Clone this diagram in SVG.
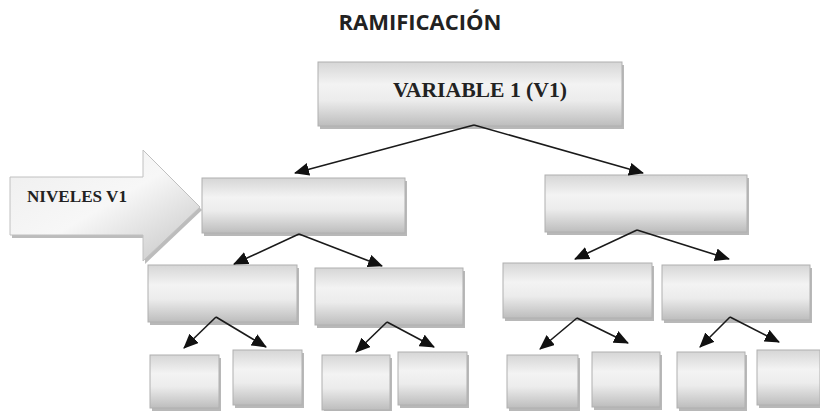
<svg xmlns="http://www.w3.org/2000/svg" width="820" height="411" viewBox="0 0 820 411">
<defs>
<linearGradient id="g" x1="0" y1="0" x2="0" y2="1">
<stop offset="0" stop-color="#d6d6d6"/>
<stop offset="0.35" stop-color="#f3f3f3"/>
<stop offset="0.6" stop-color="#ececec"/>
<stop offset="1" stop-color="#bdbdbd"/>
</linearGradient>
<linearGradient id="ga" x1="0" y1="0" x2="1" y2="1">
<stop offset="0" stop-color="#eeeeee"/>
<stop offset="0.5" stop-color="#f7f7f7"/>
<stop offset="1" stop-color="#c4c4c4"/>
</linearGradient>
<marker id="ah" markerWidth="15" markerHeight="13" refX="14" refY="6.5" orient="auto" markerUnits="userSpaceOnUse">
<path d="M0,0 L15,6.5 L0,13 Z" fill="#111"/>
</marker>
<style>
.b{fill:url(#g);stroke:#b0b0b0;stroke-width:1}
.s{fill:#9a9a9a;opacity:0.7}
.c{stroke:#1a1a1a;stroke-width:1.6;fill:none;marker-end:url(#ah)}
.t{font-family:"Liberation Serif",serif;font-weight:bold;fill:#222}
</style>
</defs>
<rect width="820" height="411" fill="#fff"/>
<text x="420" y="30" text-anchor="middle" font-family="'Open Sans','Liberation Sans',sans-serif" font-weight="bold" font-size="22" fill="#222">RAMIFICACIÓN</text>

<g id="v1">
<rect class="s" x="320" y="65" width="304" height="64"/>
<rect class="b" x="318" y="62" width="304" height="64"/>
<text class="t" x="393" y="97" font-size="22" textLength="174" lengthAdjust="spacingAndGlyphs">VARIABLE 1 (V1)</text>
</g>

<g id="niveles">
<polygon points="12,180 145,180 145,153 202,210 145,264 145,238 12,238" fill="#a0a0a0" opacity="0.7"/>
<polygon points="10,177 143,177 143,150 200,207 143,261 143,235 10,235" fill="url(#ga)" stroke="#c0c0c0"/>
<text class="t" x="27" y="202" font-size="16" textLength="100" lengthAdjust="spacingAndGlyphs">NIVELES V1</text>
</g>

<g id="n1a"><rect class="s" x="204" y="181" width="203" height="55"/><rect class="b" x="202" y="178" width="203" height="55"/></g>
<g id="n1b"><rect class="s" x="547" y="178" width="202" height="57"/><rect class="b" x="545" y="175" width="202" height="57"/></g>

<g id="n2a"><rect class="s" x="150" y="268" width="149" height="57"/><rect class="b" x="148" y="265" width="149" height="57"/></g>
<g id="n2b"><rect class="s" x="317" y="271" width="148" height="57"/><rect class="b" x="315" y="268" width="148" height="57"/></g>
<g id="n2c"><rect class="s" x="505" y="266" width="149" height="55"/><rect class="b" x="503" y="263" width="149" height="55"/></g>
<g id="n2d"><rect class="s" x="664" y="268" width="148" height="55"/><rect class="b" x="662" y="265" width="148" height="55"/></g>

<g id="n3a"><rect class="s" x="152" y="358" width="69" height="53"/><rect class="b" x="150" y="355" width="69" height="53"/></g>
<g id="n3b"><rect class="s" x="235" y="353" width="69" height="55"/><rect class="b" x="233" y="350" width="69" height="55"/></g>
<g id="n3c"><rect class="s" x="324" y="358" width="68" height="55"/><rect class="b" x="322" y="355" width="68" height="55"/></g>
<g id="n3d"><rect class="s" x="400" y="355" width="69" height="53"/><rect class="b" x="398" y="352" width="69" height="53"/></g>
<g id="n3e"><rect class="s" x="509" y="358" width="71" height="53"/><rect class="b" x="507" y="355" width="71" height="53"/></g>
<g id="n3f"><rect class="s" x="594" y="355" width="68" height="55"/><rect class="b" x="592" y="352" width="68" height="55"/></g>
<g id="n3g"><rect class="s" x="679" y="355" width="68" height="56"/><rect class="b" x="677" y="352" width="68" height="56"/></g>
<g id="n3h"><rect class="s" x="759" y="353" width="63" height="55"/><rect class="b" x="757" y="350" width="63" height="55"/></g>

<g id="connectors">
<line class="c" x1="474" y1="125" x2="295" y2="173"/>
<line class="c" x1="474" y1="125" x2="643" y2="173"/>
<line class="c" x1="299" y1="234" x2="234" y2="264"/>
<line class="c" x1="299" y1="234" x2="382" y2="266"/>
<line class="c" x1="637" y1="230" x2="575" y2="259"/>
<line class="c" x1="637" y1="230" x2="729" y2="259"/>
<line class="c" x1="216" y1="317" x2="184" y2="348"/>
<line class="c" x1="216" y1="317" x2="266" y2="347"/>
<line class="c" x1="387" y1="322" x2="356" y2="352"/>
<line class="c" x1="387" y1="322" x2="434" y2="347"/>
<line class="c" x1="577" y1="318" x2="540" y2="349"/>
<line class="c" x1="577" y1="318" x2="628" y2="343"/>
<line class="c" x1="730" y1="317" x2="700" y2="347"/>
<line class="c" x1="730" y1="317" x2="779" y2="342"/>
</g>
</svg>
